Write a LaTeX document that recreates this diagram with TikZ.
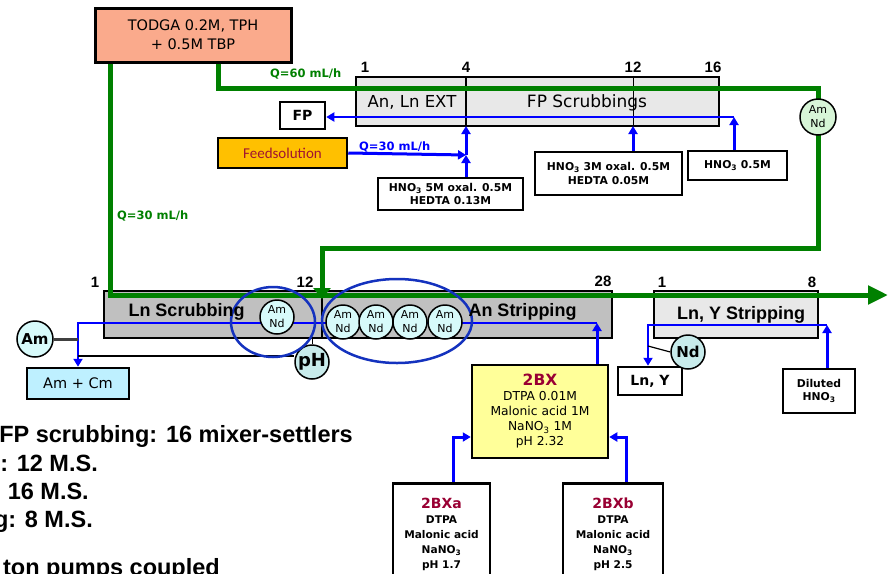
\documentclass[tikz,border=0pt]{standalone}
\usepackage{fontspec}
\setmainfont{Liberation Sans}
\newfontfamily\djv{DejaVu Sans}
\newfontfamily\carl{Carlito}
\usetikzlibrary{arrows.meta}
\definecolor{salmon}{RGB}{250,170,140}
\definecolor{gold}{RGB}{255,192,0}
\definecolor{feedred}{RGB}{160,20,50}
\definecolor{lgray}{RGB}{232,232,232}
\definecolor{mgray}{RGB}{192,192,192}
\definecolor{lyellow}{RGB}{255,255,153}
\definecolor{amcmblue}{RGB}{190,240,255}
\definecolor{ccyan}{RGB}{215,250,250}
\definecolor{phcyan}{RGB}{200,235,235}
\definecolor{cgreen}{RGB}{215,245,215}
\definecolor{dred}{RGB}{153,0,51}
\definecolor{pblue}{RGB}{0,0,255}
\definecolor{eblue}{RGB}{20,50,190}
\definecolor{pgreen}{RGB}{0,128,0}
\tikzset{
  box/.style={draw=black, line width=2.5pt, inner sep=0pt, align=center},
  numlab/.style={font=\bfseries\fontsize{15}{15}\selectfont, inner sep=0pt},
  gline/.style={draw=pgreen, line width=5pt},
  bline/.style={draw=pblue, line width=2.5pt, -{Triangle[length=8pt,width=9pt]}},
  barrow/.style={draw=pblue, line width=3pt, -{Triangle[length=8pt,width=9pt]}},
  circ/.style={circle, draw=black, line width=1.5pt, fill=ccyan, inner sep=0pt, minimum size=34pt, align=center},
  amnd/.style={circ, font=\djv\fontsize{11}{14}\selectfont},
  smallbold/.style={font=\djv\bfseries\fontsize{10.8}{13.5}\selectfont},
  qlab/.style={font=\djv\bfseries\fontsize{11.5}{12}\selectfont, inner sep=0pt},
  bigtxt/.style={font=\bfseries\fontsize{18}{18}\selectfont, inner sep=0pt},
  notetxt/.style={font=\bfseries\fontsize{23.5}{26}\selectfont, inner sep=0pt, anchor=base east},
  ell/.style={draw=eblue, line width=2.5pt}
}
\begin{document}
\begin{tikzpicture}[x=1pt,y=-1pt]
\useasboundingbox (0,0) rectangle (890,573);
\clip (0,0) rectangle (890,573);
\fill[white] (0,0) rectangle (890,573);

% ---- boxes ----
\node[box, fill=salmon, line width=3pt, minimum width=196pt, minimum height=54pt,
      font=\djv\fontsize{14.5}{19}\selectfont] (todga) at (193,35) {TODGA 0.2M, TPH\\+ 0.5M TBP};
\node[box, fill=lgray, minimum width=110pt, minimum height=49pt] (ext1) at (411,101.5) {};
\node[box, fill=lgray, minimum width=253pt, minimum height=49pt] (ext2) at (592.5,101.5) {};
\node[box, fill=white, minimum width=45pt, minimum height=27pt, font=\djv\bfseries\fontsize{14}{14}\selectfont] (fp) at (302.5,115.5) {FP};
\node[box, fill=gold, minimum width=129pt, minimum height=30pt, text=feedred, font=\carl\fontsize{15}{15}\selectfont] (feed) at (282.5,153) {Feedsolution};
\node[box, fill=white, minimum width=145pt, minimum height=32pt, smallbold] (hno5) at (450.5,194) {HNO\textsubscript{3} 5M oxal. 0.5M\\HEDTA 0.13M};
\node[box, fill=white, minimum width=147pt, minimum height=43pt, smallbold] (hno3) at (608.5,173.5) {HNO\textsubscript{3} 3M oxal. 0.5M\\HEDTA 0.05M};
\node[box, fill=white, minimum width=99pt, minimum height=29pt, smallbold] (hno05) at (737.5,165.5) {HNO\textsubscript{3} 0.5M};

\node[box, fill=mgray, minimum width=218pt, minimum height=47pt] (lnsc) at (213,314.5) {};
\node[box, fill=mgray, minimum width=290pt, minimum height=47pt] (ansp) at (467,314.5) {};
\node[box, fill=lgray, minimum width=164pt, minimum height=47pt] (lnys) at (736,314.5) {};

\node[box, fill=amcmblue, minimum width=102pt, minimum height=31pt, font=\djv\fontsize{14.5}{14}\selectfont] (amcm) at (78,383.5) {Am + Cm};
\node[box, fill=white, minimum width=64pt, minimum height=28pt, font=\djv\bfseries\fontsize{14}{14}\selectfont] (lny) at (650,381) {Ln, Y};
\node[box, fill=white, minimum width=72pt, minimum height=44pt, smallbold] (dil) at (819,391) {Diluted\\HNO\textsubscript{3}};

\node[box, fill=lyellow, minimum width=136pt, minimum height=93pt, font=\djv\fontsize{12.3}{15}\selectfont] (bx) at (540,411.5)
  {{\bfseries\fontsize{15.5}{17}\selectfont\textcolor{dred}{2BX}}\\DTPA 0.01M\\Malonic acid 1M\\NaNO\textsubscript{3} 1M\\pH 2.32};
\node[box, fill=white, minimum width=97pt, minimum height=103pt, anchor=north, font=\djv\bfseries\fontsize{10.6}{15}\selectfont] (bxa) at (441.5,482)
  {{\fontsize{14}{15}\selectfont\textcolor{dred}{2BXa}}\\DTPA\\Malonic acid\\NaNO\textsubscript{3}\\pH 1.7};
\node[box, fill=white, minimum width=100pt, minimum height=103pt, anchor=north, font=\djv\bfseries\fontsize{10.6}{15}\selectfont] (bxb) at (613,482)
  {{\fontsize{14}{15}\selectfont\textcolor{dred}{2BXb}}\\DTPA\\Malonic acid\\NaNO\textsubscript{3}\\pH 2.5};

% thin divider at stage 12
\coordinate (c12) at (633,126);
\draw[line width=0.8pt] (c12 |- ext2.north) -- (c12);

% ---- green solvent lines ----
\coordinate (g1) at (218,88);
\coordinate (g2) at (818,88);
\coordinate (g3) at (818,248);
\coordinate (g4) at (322,248);
\coordinate (g5) at (322,299);
\draw[gline, -{Triangle[length=11pt,width=17pt]}] (g1 |- todga.south) -- (g1) -- (g2) -- (g3) -- (g4) -- (g5);
\coordinate (h1) at (110,295);
\coordinate (h2) at (888,295);
\draw[gline, -{Triangle[length=20pt,width=18pt]}] (h1 |- todga.south) -- (h1) -- (h2);

% ---- blue aqueous lines (upper) ----
\coordinate (c16) at (734,117);
\coordinate (c4) at (466,126);
\coordinate (c4m) at (466,155);
\draw[barrow] (c16 |- hno05.north) -- (c16);
\draw[bline] (c16) -- (c16 -| fp.east);
\draw[barrow] (c12 |- hno3.north) -- (c12);
\draw[barrow] (c4 |- hno5.north) -- (c4m);
\draw[barrow] (c4m) -- (c4);
\draw[barrow] (feed.east) -- (c4m);

% ---- blue aqueous lines (lower) ----
\coordinate (bs) at (597,323);
\coordinate (bl) at (78,323);
\draw[barrow] (bs |- bx.north) -- (bs);
\draw[bline] (bs) -- (bl) -- (bl |- amcm.north);
\coordinate (ys) at (827,325);
\coordinate (yl) at (648,325);
\draw[barrow] (ys |- dil.north) -- (ys);
\draw[bline] (ys) -- (yl) -- (yl |- lny.north);
\coordinate (ja) at (453,437);
\coordinate (jb) at (626,437);
\draw[barrow] (ja |- bxa.north) -- (ja) -- (ja -| bx.west);
\draw[barrow] (jb |- bxb.north) -- (jb) -- (jb -| bx.east);

% ---- analysis points ----
\node[circ, fill=ccyan, minimum size=36pt, font=\djv\bfseries\fontsize{15}{15}\selectfont] (amc) at (35,339) {Am};
\coordinate (bk) at (78,356);
\coordinate (nk) at (648,346);
\draw[line width=3pt, black!75] (amc.east) -- (amc.east -| bl);
\node[circ, fill=phcyan, font=\djv\bfseries\fontsize{18}{18}\selectfont] (ph) at (312,362) {pH};
\draw[line width=1.5pt] (bk) -- (bk -| ph.west);
\draw[line width=0.8pt] (ph.north) -- (ph.north |- lnsc.south);
\node[circ, fill=phcyan, font=\djv\bfseries\fontsize{15}{15}\selectfont] (nd) at (688,352) {Nd};
\draw[line width=1.2pt] (nk) -- (nd.west);

\node[amnd] (a0) at (277,317) {Am\\Nd};
\node[amnd] (a1) at (343,322) {Am\\Nd};
\node[amnd] (a2) at (376,322) {Am\\Nd};
\node[amnd] (a3) at (410,322) {Am\\Nd};
\node[amnd] (a4) at (445,322) {Am\\Nd};
\node[amnd, fill=cgreen, minimum size=36pt] (ag) at (818,117) {Am\\Nd};

\draw[ell] (273,322) ellipse [x radius=42, y radius=35];
\draw[ell] (397,321) ellipse [x radius=75, y radius=42];

% ---- box texts ----
\node[font=\djv\fontsize{16.5}{16}\selectfont, inner sep=0pt] (t1) at (412,102) {An, Ln EXT};
\node[font=\djv\fontsize{17}{16}\selectfont, inner sep=0pt] (t2) at (587,103) {FP Scrubbings};
\node[bigtxt] (t3) at (186.5,312) {Ln Scrubbing};
\node[bigtxt] (t4) at (522.5,312) {An Stripping};
\node[bigtxt] (t5) at (741,315) {Ln, Y Stripping};

% ---- stage numbers ----
\node[numlab] (n1) at (365,67) {1};
\node[numlab] (n4) at (466,67) {4};
\node[numlab] (n12) at (633,67) {12};
\node[numlab] (n16) at (713,67) {16};
\node[numlab] (m1) at (95,282) {1};
\node[numlab] (m12) at (305,282) {12};
\node[numlab] (m28) at (603,281) {28};
\node[numlab] (k1) at (662,282) {1};
\node[numlab] (k8) at (812,282) {8};

% ---- flow labels ----
\node[qlab, text=pgreen, anchor=west] (q60) at (270,74) {Q=60 mL/h};
\node[qlab, text=pgreen, anchor=west] (q30g) at (117,216) {Q=30 mL/h};
\node[qlab, text=pblue, anchor=west] (q30b) at (359,147) {Q=30 mL/h};

% ---- notes (cut at the left and bottom edges, as in the source) ----
\node[notetxt] (l1) at (353,442) {FP scrubbing: 16 mixer-settlers};
\node[notetxt] (l2) at (98,471) {: 12 M.S.};
\node[notetxt] (l3) at (89,499) {16 M.S.};
\node[notetxt] (l4) at (93,527) {g: 8 M.S.};
\node[notetxt] (l5) at (220,575) {ton pumps coupled};
\end{tikzpicture}
\end{document}
